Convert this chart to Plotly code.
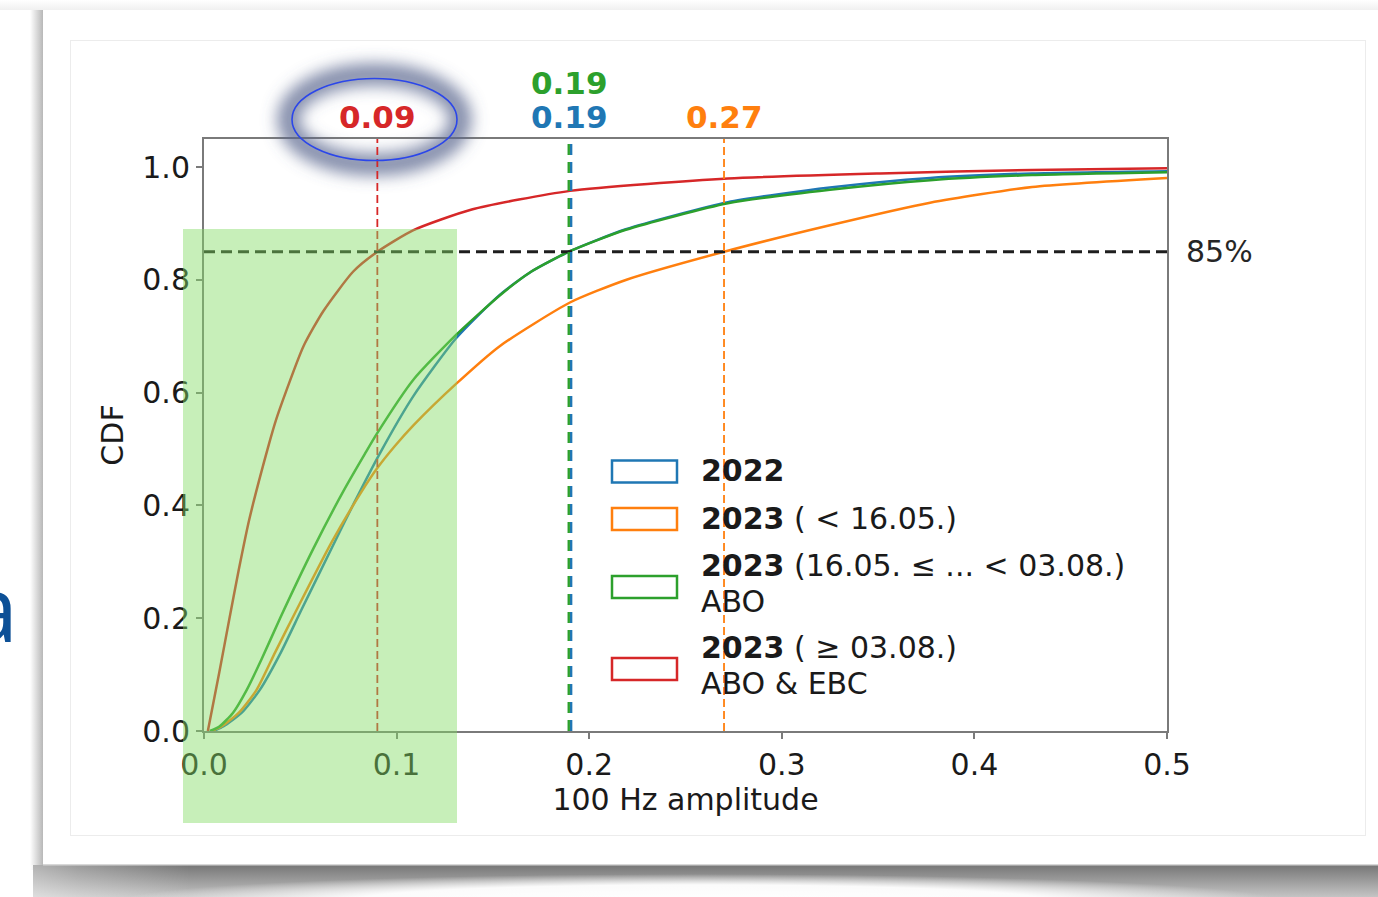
import base64
import plotly.graph_objects as go

# ---- data: empirical CDFs of the 100 Hz amplitude -------------------------
amp_2022 = [0.005, 0.010, 0.0195, 0.029, 0.040, 0.0506, 0.0671, 0.078, 0.0914, 0.1087,
            0.131, 0.1537, 0.170, 0.190, 0.219, 0.272, 0.325, 0.377, 0.430, 0.500]
cdf_2022 = [0.0, 0.008, 0.032, 0.073, 0.140, 0.215, 0.330, 0.405, 0.493, 0.594,
            0.697, 0.774, 0.815, 0.851, 0.890, 0.938, 0.964, 0.981, 0.989, 0.993]

amp_2023_early = [0.004, 0.009, 0.018, 0.0273, 0.037, 0.0481, 0.0663, 0.0819, 0.0897, 0.099,
                  0.1087, 0.131, 0.1537, 0.190, 0.219, 0.270, 0.325, 0.377, 0.430, 0.500]
cdf_2023_early = [0.0, 0.008, 0.032, 0.073, 0.140, 0.215, 0.335, 0.425, 0.465, 0.505,
                  0.542, 0.616, 0.683, 0.760, 0.800, 0.850, 0.897, 0.937, 0.965, 0.981]

amp_2023_abo = [0.003, 0.008, 0.015, 0.0222, 0.030, 0.0395, 0.0567, 0.0723, 0.0836, 0.0897,
                0.1087, 0.131, 0.1537, 0.170, 0.190, 0.219, 0.272, 0.325, 0.377, 0.430, 0.500]
cdf_2023_abo = [0.0, 0.008, 0.032, 0.073, 0.128, 0.200, 0.323, 0.425, 0.492, 0.527,
                0.623, 0.703, 0.773, 0.815, 0.851, 0.889, 0.936, 0.960, 0.977, 0.986, 0.991]

amp_2023_ebc = [0.002, 0.008, 0.0135, 0.018, 0.0235, 0.033, 0.0377, 0.0516, 0.062, 0.0775,
                0.090, 0.1085, 0.139, 0.190, 0.272, 0.351, 0.430, 0.500]
cdf_2023_ebc = [0.0, 0.105, 0.205, 0.285, 0.375, 0.500, 0.555, 0.682, 0.745, 0.815,
                0.850, 0.888, 0.925, 0.958, 0.980, 0.989, 0.995, 0.998]

# amplitude at which each CDF reaches 85 %
q85_2022 = 0.19
q85_2023_early = 0.27
q85_2023_abo = 0.19
q85_2023_ebc = 0.09
level = 0.85

x_ticks = [0.0, 0.1, 0.2, 0.3, 0.4, 0.5]
y_ticks = [0.0, 0.2, 0.4, 0.6, 0.8, 1.0]

BLUE, ORANGE, GREEN, RED = "#1f77b4", "#ff7f0e", "#2ca02c", "#d62728"
FONT = "DejaVu Sans"
FS = 30

# ---- page geometry (pixels) -----------------------------------------------
W, H = 1378, 897
L, R, T, B = 204, 1167, 139, 731
PW, PH = R - L, B - T


def px(xp):
    return (xp - L) / PW


def py(yp):
    return (B - yp) / PH


fig = go.Figure()

for amp, cdf, color in [(amp_2022, cdf_2022, BLUE),
                        (amp_2023_early, cdf_2023_early, ORANGE),
                        (amp_2023_abo, cdf_2023_abo, GREEN),
                        (amp_2023_ebc, cdf_2023_ebc, RED)]:
    fig.add_trace(go.Scatter(x=amp, y=cdf, mode="lines",
                             line=dict(color=color, width=2.5, shape="spline", smoothing=0.6),
                             hoverinfo="skip", showlegend=False))

shapes = []
# 85 % reference line
shapes.append(dict(type="line", xref="x", yref="y", x0=0, x1=0.5, y0=level, y1=level,
                   line=dict(color="#1e1e1e", width=3, dash="11px,6px"), layer="above"))
# quantile markers
shapes.append(dict(type="line", xref="x", yref="paper", x0=q85_2023_ebc, x1=q85_2023_ebc, y0=0, y1=1,
                   line=dict(color=RED, width=1.8, dash="8px,4px"), layer="above"))
shapes.append(dict(type="line", xref="x", yref="paper", x0=q85_2023_early, x1=q85_2023_early, y0=0, y1=1,
                   line=dict(color=ORANGE, width=1.8, dash="8px,4px"), layer="above"))
shapes.append(dict(type="line", xref="x", yref="paper", xsizemode="pixel", xanchor=q85_2022,
                   x0=1.2, x1=1.2, y0=0, y1=1,
                   line=dict(color=BLUE, width=2.4, dash="11px,7px"), layer="above"))
shapes.append(dict(type="line", xref="x", yref="paper", xsizemode="pixel", xanchor=q85_2023_abo,
                   x0=-1.2, x1=-1.2, y0=0, y1=1,
                   line=dict(color=GREEN, width=2.4, dash="11px,7px"), layer="above"))

# legend patches
legend_rows = [(471.5, BLUE), (519, ORANGE), (587, GREEN), (669, RED)]
for yc, color in legend_rows:
    shapes.append(dict(type="rect", xref="paper", yref="paper",
                       x0=px(612), x1=px(677), y0=py(yc + 11), y1=py(yc - 11),
                       line=dict(color=color, width=2.5), fillcolor="rgba(255,255,255,0)",
                       layer="above"))

# highlighted low-amplitude band
shapes.append(dict(type="rect", xref="paper", yref="paper",
                   x0=px(183), x1=px(457), y0=py(823), y1=py(229),
                   line=dict(width=0), fillcolor="rgba(130,220,100,0.45)", layer="above"))
# ring around the 0.09 label
shapes.append(dict(type="circle", xref="paper", yref="paper",
                   x0=px(292), x1=px(457), y0=py(160.5), y1=py(78.5),
                   line=dict(color="#2b46ea", width=1.6), layer="above"))

annotations = []
top_labels = [(q85_2023_ebc, 117, RED), (q85_2022, 117, BLUE),
              (q85_2023_early, 117, ORANGE), (q85_2023_abo, 83, GREEN)]
for xv, yp, color in top_labels:
    annotations.append(dict(x=xv, xref="x", y=py(yp), yref="paper", text=f"<b>{xv:.2f}</b>",
                            showarrow=False, xanchor="center", yanchor="middle",
                            font=dict(family=FONT, size=FS + 1, color=color)))

annotations.append(dict(x=px(1184), xref="paper", y=level, yref="y", text="85%",
                        showarrow=False, xanchor="left", yanchor="middle",
                        font=dict(family=FONT, size=FS, color="#262626")))

legend_text = [(470, "<b>2022</b>"),
               (518, "<b>2023</b> ( &lt; 16.05.)"),
               (565.5, "<b>2023</b> (16.05. ≤ ... &lt; 03.08.)"),
               (601.5, "ABO"),
               (647.5, "<b>2023</b> ( ≥ 03.08.)"),
               (683.5, "ABO &amp; EBC")]
for yp, txt in legend_text:
    annotations.append(dict(x=px(699), xref="paper", y=py(yp), yref="paper", text=txt,
                            showarrow=False, xanchor="left", yanchor="middle",
                            font=dict(family=FONT, size=FS, color="#1a1a1a")))

# slide text running off the left edge of the page
annotations.append(dict(x=px(20), xref="paper", y=py(606), yref="paper", text="a",
                        showarrow=False, xanchor="right", yanchor="middle",
                        font=dict(family="Open Sans", size=92, color="#0d5096")))


def svg_uri(svg):
    return "data:image/svg+xml;base64," + base64.b64encode(svg.encode("utf-8")).decode("ascii")


page_svg = f"""<svg xmlns='http://www.w3.org/2000/svg' width='{W}' height='{H}' viewBox='0 0 {W} {H}'>
<defs>
<linearGradient id='ls' x1='0' x2='1' y1='0' y2='0'>
<stop offset='0' stop-color='#ffffff'/><stop offset='1' stop-color='#b8b8b8'/></linearGradient>
<linearGradient id='ts' x1='0' x2='0' y1='0' y2='1'>
<stop offset='0' stop-color='#ffffff'/><stop offset='1' stop-color='#f0f0f0'/></linearGradient>
<linearGradient id='bs' x1='0' x2='0' y1='0' y2='1'>
<stop offset='0' stop-color='#767676'/><stop offset='1' stop-color='#c4c4c4'/></linearGradient>
<linearGradient id='lf' x1='0' x2='1' y1='0' y2='0'>
<stop offset='0' stop-color='#ffffff' stop-opacity='1'/><stop offset='0.3' stop-color='#ffffff' stop-opacity='0.6'/>
<stop offset='1' stop-color='#ffffff' stop-opacity='0'/></linearGradient>
<radialGradient id='cl' cx='0.5' cy='0.5' r='0.5'>
<stop offset='0' stop-color='#ffffff' stop-opacity='1'/>
<stop offset='0.6' stop-color='#ffffff' stop-opacity='0.95'/>
<stop offset='1' stop-color='#ffffff' stop-opacity='0'/></radialGradient>
</defs>
<rect width='{W}' height='{H}' fill='#ffffff'/>
<rect x='0' y='0' width='{W}' height='10' fill='url(#ts)'/>
<rect x='30' y='10' width='13' height='860' fill='url(#ls)'/>
<rect x='33' y='865' width='{W - 33}' height='{H - 865}' fill='url(#bs)'/>
<rect x='30' y='865' width='160' height='{H - 865}' fill='url(#lf)' opacity='0.45'/>
<ellipse cx='700' cy='901' rx='580' ry='27' fill='url(#cl)'/>
<rect x='43' y='10' width='{W - 43}' height='855' fill='#ffffff'/>
<rect x='43' y='864' width='{W - 43}' height='1.5' fill='#d8d8d8'/>
<rect x='70.5' y='40.5' width='1295' height='795' fill='none' stroke='#ececec' stroke-width='1'/>
</svg>"""

# soft halo around the ring
HX, HY, HW, HH = 240, 25, 270, 190
halo_svg = f"""<svg xmlns='http://www.w3.org/2000/svg' width='{HW}' height='{HH}' viewBox='0 0 {HW} {HH}'>
<defs><filter id='g' x='-30%' y='-40%' width='160%' height='180%'><feGaussianBlur stdDeviation='8'/></filter></defs>
<ellipse cx='{374.5 - HX}' cy='{119.5 - HY}' rx='86' ry='45' fill='none'
 stroke='rgb(85,100,140)' stroke-opacity='0.75' stroke-width='22' filter='url(#g)'/>
</svg>"""

images = [
    dict(source=svg_uri(page_svg), xref="paper", yref="paper", x=px(0), y=py(0),
         sizex=W / PW, sizey=H / PH, xanchor="left", yanchor="top", sizing="stretch",
         layer="below"),
    dict(source=svg_uri(halo_svg), xref="paper", yref="paper", x=px(HX), y=py(HY),
         sizex=HW / PW, sizey=HH / PH, xanchor="left", yanchor="top", sizing="stretch",
         layer="above"),
]

axis_common = dict(showline=True, mirror=True, linecolor="#7a7a7a", linewidth=2,
                   ticks="outside", ticklen=6, tickwidth=1.5, tickcolor="#7a7a7a",
                   showgrid=False, zeroline=False, automargin=False,
                   tickfont=dict(family=FONT, size=FS, color="#1a1a1a"))

fig.update_layout(
    width=W, height=H,
    margin=dict(l=L, r=W - R, t=T, b=H - B, pad=0),
    paper_bgcolor="#ffffff", plot_bgcolor="rgba(0,0,0,0)",
    showlegend=False,
    xaxis=dict(range=[0, 0.5], tickvals=x_ticks, ticktext=[f"{v:.1f}" for v in x_ticks],
               title=dict(text="100 Hz amplitude", standoff=6,
                          font=dict(family=FONT, size=FS, color="#1a1a1a")),
               **axis_common),
    yaxis=dict(range=[0, 1.05], tickvals=y_ticks, ticktext=[f"{v:.1f}" for v in y_ticks],
               title=dict(text="CDF", standoff=10,
                          font=dict(family=FONT, size=FS, color="#1a1a1a")),
               **axis_common),
    shapes=shapes,
    annotations=annotations,
    images=images,
)

fig.write_html("out.html", config={"displayModeBar": False})
